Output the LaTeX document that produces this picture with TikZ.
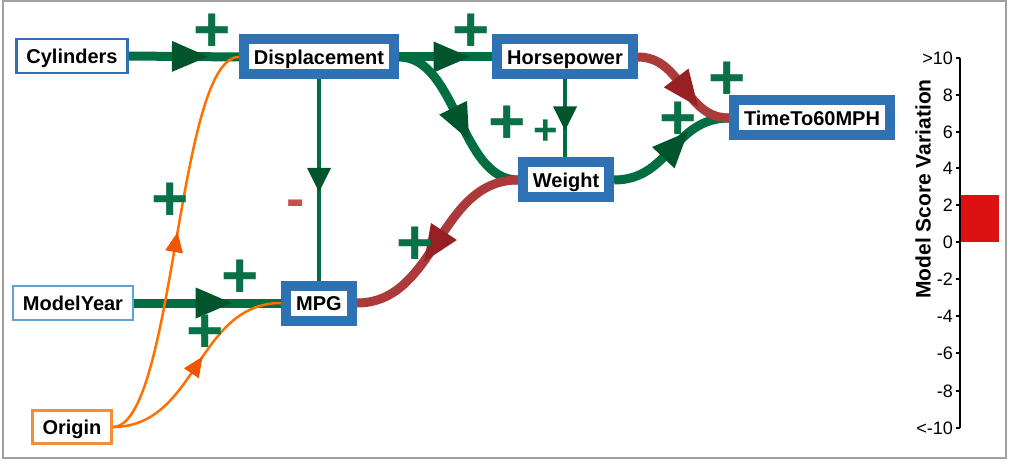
\documentclass[tikz,border=0pt]{standalone}
\usepackage{fontspec}
\setmainfont{Liberation Sans}
\usetikzlibrary{decorations.markings,backgrounds}
\definecolor{boxblue}{RGB}{46,114,180}
\definecolor{inblue}{RGB}{50,110,180}
\definecolor{myblue}{RGB}{100,160,210}
\definecolor{orgorange}{RGB}{247,140,50}
\definecolor{lnorange}{RGB}{255,112,0}
\definecolor{arorange}{RGB}{240,85,0}
\definecolor{lngreen}{RGB}{0,110,65}
\definecolor{argreen}{RGB}{0,85,45}
\definecolor{lnred}{RGB}{172,58,58}
\definecolor{arred}{RGB}{150,32,36}
\definecolor{plusgreen}{RGB}{10,112,70}
\definecolor{minusred}{RGB}{200,80,80}
\definecolor{barred}{RGB}{220,17,17}
\definecolor{framegray}{RGB}{160,160,160}
\tikzset{
  nodetext/.style={font=\bfseries\fontsize{20}{24}\selectfont, inner xsep=10pt, inner ysep=0pt,
    minimum height=35pt, text height=14.3pt, text depth=0pt, fill=white},
  bigbox/.style={nodetext, draw=boxblue, line width=10pt},
  inbox/.style={nodetext, draw=#1, line width=2.5pt, minimum height=34pt},
  origbox/.style={nodetext, draw=orgorange, line width=2.5pt, minimum height=33pt},
  thickedge/.style 2 args={draw=#1, line width=9pt, postaction={decorate},
    decoration={markings, mark=at position 0.5 with {\fill[#2] (-12pt,15.5pt) -- (24pt,0pt) -- (-12pt,-15.5pt) -- cycle;}}},
  thinedge/.style={draw=lngreen, line width=3.5pt, postaction={decorate},
    decoration={markings, mark=at position 0.5 with {\fill[argreen] (-12pt,12pt) -- (12pt,0pt) -- (-12pt,-12pt) -- cycle;}}},
  oredge/.style={draw=lnorange, line width=2.5pt, postaction={decorate},
    decoration={markings, mark=at position 0.5 with {\fill[arorange] (-10pt,9pt) -- (10pt,0pt) -- (-10pt,-9pt) -- cycle;}}},
  plussign/.style={text=plusgreen, font=\bfseries\fontsize{64}{64}\selectfont, inner sep=0pt,
    text height=37.8pt, text depth=-7pt},
  smallplus/.style={text=plusgreen, font=\bfseries\fontsize{42}{42}\selectfont, inner sep=0pt,
    text height=24.8pt, text depth=-4.6pt},
  minussign/.style={text=minusred, font=\bfseries\fontsize{55}{55}\selectfont, inner sep=0pt,
    text height=18.3pt, text depth=-10.9pt},
  ticklabel/.style={anchor=east, font=\fontsize{18}{18}\selectfont, inner sep=0pt},
}
\begin{document}
\begin{tikzpicture}[x=1pt,y=-1pt]
\useasboundingbox (0,0) rectangle (1014,465);
\draw[framegray, line width=2pt] (2.5,1.5) rectangle (1006,458);

% nodes
\node[inbox=inblue] (cyl) at (72,56) {Cylinders};
\node[bigbox] (disp) at (319,57) {Displacement};
\node[bigbox] (hp) at (565,57) {Horsepower};
\node[bigbox] (w) at (566,180) {Weight};
\node[bigbox] (time) at (812,118) {TimeTo60MPH};
\node[bigbox] (mpg) at (319,303) {MPG};
\node[inbox=myblue] (my) at (73,303) {ModelYear};
\node[origbox] (orig) at (72,427) {Origin};

\begin{scope}[on background layer]
\draw[thickedge={lngreen}{argreen}] (cyl.east) -- (disp.west);
\draw[thickedge={lngreen}{argreen}] (disp.east) -- (hp.west);
\draw[thickedge={lngreen}{argreen}] (disp.east) .. controls +(58,0) and +(-58,0) .. (w.west);
\draw[thickedge={lngreen}{argreen}] (my.east) -- (mpg.west);
\draw[thickedge={lngreen}{argreen}] (w.east) .. controls +(56,0) and +(-56,0) .. (time.west);
\draw[thickedge={lnred}{arred}] (hp.east) .. controls +(45,0) and +(-45,0) .. (time.west);
\draw[thickedge={lnred}{arred}] (w.west) .. controls +(-80,0) and +(80,0) .. (mpg.east);
\draw[thinedge] (disp.south) -- (mpg.north);
\draw[thinedge] (hp.south) -- (hp.south |- w.north);
\draw[oredge] (orig.east) .. controls +(62,0) and +(-62,0) .. (disp.west);
\draw[oredge] (orig.east) .. controls +(85,0) and +(-85,0) .. (mpg.west);
\end{scope}

% signs
\node[plussign] (p1) at (212,33) {+};
\node[plussign] (p2) at (471,33) {+};
\node[plussign] (p3) at (507,125) {+};
\node[smallplus] (p4) at (546,132) {+};
\node[plussign] (p5) at (727,81) {+};
\node[plussign] (p6) at (678,121) {+};
\node[plussign] (p7) at (170,202) {+};
\node[plussign] (p8) at (240,279) {+};
\node[plussign] (p9) at (205,334) {+};
\node[plussign] (p10) at (415,246) {+};
\node[minussign] (m1) at (296,208) {-};

% legend
\fill[barred] (960,195) rectangle (999,242);
\draw[line width=1.5pt] (960,58) -- (960,428);
\foreach \yy/\lab [count=\i] in {58/{>10},95/8,132/6,168/4,205/2,242/0,279/-2,316/-4,353/-6,391/-8,428/{<-10}}{
  \draw[line width=1.5pt] (956,\yy) -- (960,\yy);
  \node[ticklabel] (t\i) at (953,\yy) {\lab};
}
\node[rotate=90, font=\bfseries\fontsize{21}{21}\selectfont] (axl) at (923,189) {Model Score Variation};
\end{tikzpicture}
\end{document}
